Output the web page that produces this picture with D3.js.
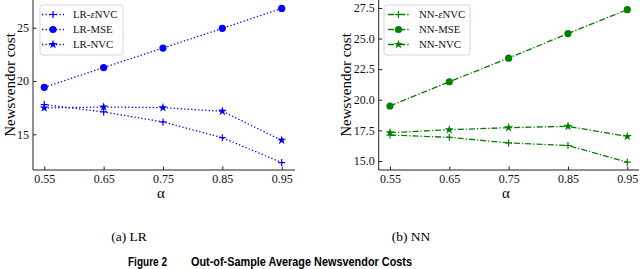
<!DOCTYPE html>
<html><head><meta charset="utf-8">
<script src="https://cdn.jsdelivr.net/npm/d3@7"></script>
<style>body{margin:0;background:#fff}svg{display:block}</style>
</head><body>
<svg id="c" width="640" height="269"></svg>
<script>
const alphas = [0.55, 0.65, 0.75, 0.85, 0.95];
const lrENVC = [17.79, 17.10, 16.16, 14.68, 12.35];
const lrMSE  = [19.41, 21.26, 23.09, 24.94, 26.81];
const lrNVC  = [17.47, 17.56, 17.50, 17.16, 14.44];
const nnENVC = [17.12, 16.93, 16.47, 16.26, 14.90];
const nnMSE  = [19.49, 21.47, 23.40, 25.41, 27.36];
const nnNVC  = [17.31, 17.55, 17.72, 17.83, 17.00];
const lrYTicks = [15, 20, 25];
const nnYTicks = [15.0, 17.5, 20.0, 22.5, 25.0, 27.5];
const lrNames = ["LR-", "LR-MSE", "LR-NVC"];
const nnNames = ["NN-", "NN-MSE", "NN-NVC"];

const svg = d3.select("#c");
const serif = "Liberation Serif, DejaVu Serif, serif";

function panel(o){
  const g = svg.append("g");
  const x = d3.scaleLinear().domain(o.xd).range([o.x0, o.x1]);
  const y = d3.scaleLinear().domain(o.yd).range([170, 0]);
  g.append("line").attr("x1",o.x0).attr("x2",o.x0).attr("y1",0).attr("y2",170).attr("stroke","#222").attr("stroke-width",1);
  g.append("line").attr("x1",o.x0).attr("x2",o.x1).attr("y1",170).attr("y2",170).attr("stroke","#222").attr("stroke-width",1);
  const xa = g.append("g").attr("transform","translate(0,170)")
    .call(d3.axisBottom(x).tickValues(alphas).tickSize(-3.5).tickPadding(4).tickFormat(d3.format(".2f")));
  const ya = g.append("g").attr("transform",`translate(${o.x0},0)`)
    .call(d3.axisLeft(y).tickValues(o.yt).tickSize(-3.5).tickPadding(4).tickFormat(o.yf));
  [xa,ya].forEach(a=>{a.select(".domain").remove();
    a.attr("font-family",null).attr("font-size",null);
    a.selectAll("text").style("font-family",serif).style("font-size","12px").attr("fill","#111");
    a.selectAll("line").attr("stroke","#222");});
  g.append("text").attr("x",(o.x0+o.x1)/2 - 3).attr("y",197.5).attr("text-anchor","middle")
    .style("font-family",serif).style("font-size","15px").text("α");
  g.append("text").attr("transform",`translate(${o.ylx},85) rotate(-90)`).attr("text-anchor","middle")
    .style("font-family",serif).style("font-size","15px").text("Newsvendor cost");
  const line = d3.line().x((d,i)=>x(alphas[i])).y(d=>y(d));
  const kinds = ["plus","circle","star"];
  o.s.forEach((s,k)=>{
    g.append("path").attr("d",line(s)).attr("fill","none").attr("stroke",o.col)
      .attr("stroke-width",1.3).attr("stroke-dasharray",o.dash);
    s.forEach((v,i)=>marker(g,kinds[k],x(alphas[i]),y(v),o.col));
  });
  const L = g.append("g").attr("transform",`translate(${o.lx},5)`);
  L.append("rect").attr("width",o.lw).attr("height",50).attr("rx",2.5).attr("fill","#fff")
    .attr("fill-opacity",0.8).attr("stroke","#ccc").attr("stroke-width",0.8);
  o.names.forEach((n,k)=>{
    const yy = 9.5 + k*15;
    L.append("line").attr("x1",o.l1).attr("x2",o.l2).attr("y1",yy).attr("y2",yy).attr("stroke",o.col)
      .attr("stroke-width",1.3).attr("stroke-dasharray",o.dash);
    marker(L,kinds[k],(o.l1+o.l2)/2,yy,o.col);
    const t = L.append("text").attr("x",o.tx).attr("y",yy+3.8).style("font-family",serif).style("font-size","10.8px").attr("fill","#111");
    t.append("tspan").text(n);
    if(k===0){ t.append("tspan").style("font-style","italic").text("ε"); t.append("tspan").text("NVC"); }
  });
}
function marker(g,kind,cx,cy,col){
  if(kind==="circle") g.append("circle").attr("cx",cx).attr("cy",cy).attr("r",3.6).attr("fill",col);
  else if(kind==="plus") g.append("path").attr("d",`M${cx-3.5},${cy}H${cx+3.5}M${cx},${cy-3.5}V${cy+3.5}`).attr("stroke",col).attr("stroke-width",1.2);
  else g.append("path").attr("d",d3.symbol(d3.symbolStar,26)()).attr("transform",`translate(${cx},${cy})`).attr("fill",col);
}

panel({xd:[0.531,0.9724], x0:33, x1:295, yd:[11.65,27.6], yt:lrYTicks, yf:d3.format("d"),
  col:"#0000ff", dash:"1.3,2.2", s:[lrENVC,lrMSE,lrNVC], names:lrNames, lx:40, lw:83, l1:2, l2:24, tx:33, ylx:15});
panel({xd:[0.531,0.9697], x0:378.7, x1:639, yd:[14.26,28.15], yt:nnYTicks, yf:d3.format(".1f"),
  col:"#008000", dash:"6,2,1.3,2", s:[nnENVC,nnMSE,nnNVC], names:nnNames, lx:384, lw:86, l1:4, l2:25, tx:35, ylx:351});

svg.append("text").attr("x",129).attr("y",241).attr("text-anchor","middle").style("font-family",serif).style("font-size","13.5px").text("(a) LR");
svg.append("text").attr("x",411).attr("y",241).attr("text-anchor","middle").style("font-family",serif).style("font-size","13.5px").text("(b) NN");
svg.append("text").attr("x",128).attr("y",266).style("font-family","Liberation Sans, Arial, sans-serif").style("font-weight","bold").style("font-size","12.5px").attr("textLength",39).attr("lengthAdjust","spacingAndGlyphs").text("Figure 2");
svg.append("text").attr("x",191).attr("y",266).style("font-family","Liberation Sans, Arial, sans-serif").style("font-weight","bold").style("font-size","12.5px").attr("textLength",221).attr("lengthAdjust","spacingAndGlyphs").text("Out-of-Sample Average Newsvendor Costs");
</script>
</body></html>
